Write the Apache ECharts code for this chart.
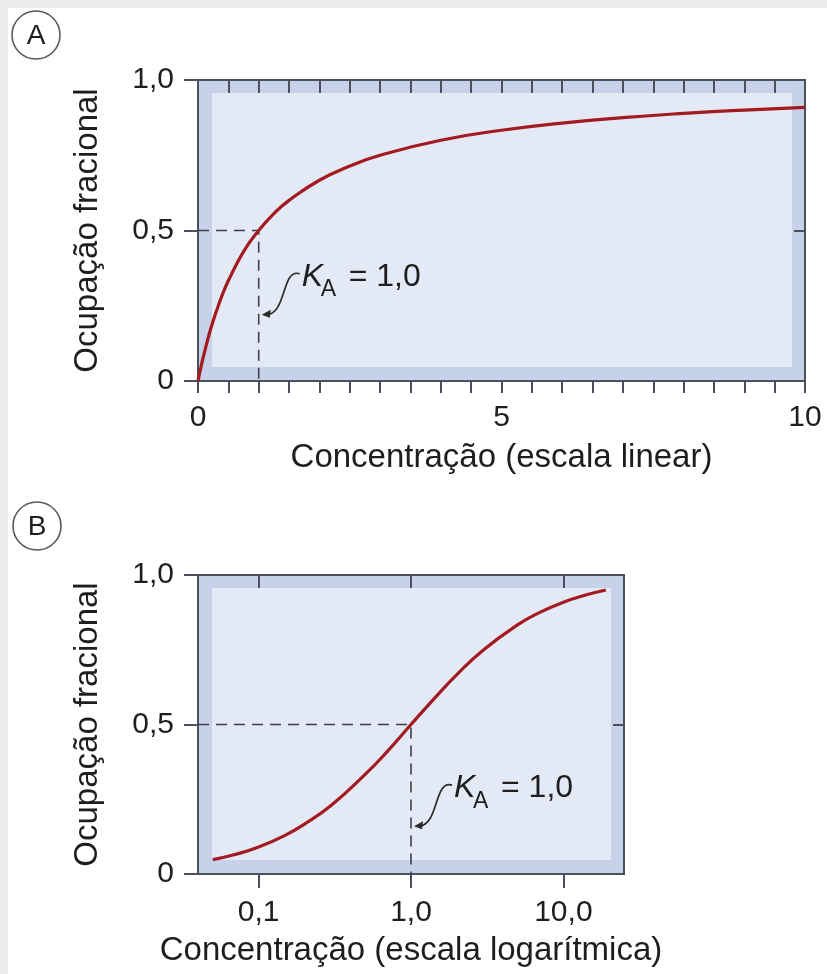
<!DOCTYPE html>
<html><head><meta charset="utf-8">
<script src="https://cdn.jsdelivr.net/npm/echarts@6/dist/echarts.min.js"></script>
<style>html,body{margin:0;padding:0;background:#fff}#c{width:827px;height:974px}</style>
</head><body><div id="c"></div>
<script>
// Panel A: linear concentration scale
const concLinear = [0, 0.05, 0.1, 0.2, 0.3, 0.4, 0.5, 0.75, 1, 1.25, 1.5, 2, 2.5, 3, 4, 5, 6, 7, 8, 9, 10];
const occLinear  = [0, 0.048, 0.09, 0.167, 0.23, 0.286, 0.333, 0.43, 0.5, 0.556, 0.6, 0.667, 0.714, 0.75, 0.8, 0.833, 0.857, 0.875, 0.889, 0.9, 0.909];
// Panel B: logarithmic concentration scale
const concLog = [0.05, 0.07, 0.1, 0.15, 0.2, 0.3, 0.5, 0.7, 1, 1.5, 2, 3, 5, 7, 10, 14, 19];
const occLog  = [0.048, 0.065, 0.09, 0.13, 0.167, 0.23, 0.333, 0.41, 0.5, 0.6, 0.667, 0.75, 0.833, 0.875, 0.909, 0.933, 0.95];
// ticks / labels
const yTickValues = [0, 0.5, 1];
const xLinearLabelValues = [0, 5, 10];
const xLogTickValues = [0.1, 1, 10];
const kA = 1.0;
const halfOcc = 0.5;
const arrowTipOccA = 0.22;
const arrowTipOccB = 0.16;
const texts = {
  yName: 'Ocupação fracional',
  xNameA: 'Concentração (escala linear)',
  xNameB: 'Concentração (escala logarítmica)',
  kLabel: '= 1,0'
};

const FONT = "'Liberation Sans', Arial, Helvetica, sans-serif";
const INK = '#1e1e1e';
const FRAME = '#4a505c';
const RED = '#a31b20';
const DASH = '#3c4048';
const BAND = '#c7d2ea';
const INNER = '#e4e9f6';

const linMin = 0, linMax = 10, logMin = 0.04, logMax = 25;

const commaFmt = v => v === 0 ? '0' : Number(v).toFixed(1).replace('.', ',');

const chart = echarts.init(document.getElementById('c'), null, {renderer: 'canvas'});

const axisLine = {show: true, onZero: false, lineStyle: {color: FRAME, width: 2}};
const labelStyle = {color: INK, fontSize: 30, fontFamily: FONT};
const nameStyle = {color: INK, fontSize: 33, fontFamily: FONT};
const tickLine = {color: FRAME, width: 2};

const option = {
  animation: false,
  backgroundColor: '#ffffff',
  grid: [
    {left: 198, top: 80, width: 607, height: 301, show: true, backgroundColor: BAND, borderColor: FRAME, borderWidth: 2},
    {left: 198, top: 575, width: 426, height: 299, show: true, backgroundColor: BAND, borderColor: FRAME, borderWidth: 2}
  ],
  xAxis: [
    {type: 'value', gridIndex: 0, position: 'bottom', min: linMin, max: linMax, interval: 0.5, z: 3,
     axisLine, splitLine: {show: false},
     axisTick: {show: true, inside: false, length: 12, lineStyle: tickLine},
     axisLabel: Object.assign({margin: 22, customValues: xLinearLabelValues, formatter: v => String(v)}, labelStyle),
     name: texts.xNameA, nameLocation: 'middle', nameGap: 60, nameTextStyle: nameStyle},
    {type: 'value', gridIndex: 0, position: 'top', min: linMin, max: linMax, interval: 0.5, z: 3,
     axisLine, splitLine: {show: false}, axisLabel: {show: false},
     axisTick: {show: true, inside: true, length: 13, lineStyle: tickLine}},
    {type: 'log', logBase: 10, gridIndex: 1, position: 'bottom', min: logMin, max: logMax, z: 3,
     axisLine, splitLine: {show: false}, minorTick: {show: false},
     axisTick: {show: true, inside: false, length: 14, customValues: xLogTickValues, lineStyle: tickLine},
     axisLabel: Object.assign({margin: 24, customValues: xLogTickValues, formatter: v => Number(v).toFixed(1).replace('.', ',')}, labelStyle),
     name: texts.xNameB, nameLocation: 'middle', nameGap: 60, nameTextStyle: nameStyle},
    {type: 'log', logBase: 10, gridIndex: 1, position: 'top', min: logMin, max: logMax, z: 3,
     axisLine, splitLine: {show: false}, axisLabel: {show: false},
     axisTick: {show: true, inside: true, length: 13, customValues: xLogTickValues, lineStyle: tickLine}}
  ],
  yAxis: [
    {type: 'value', gridIndex: 0, position: 'left', min: 0, max: 1, interval: 0.5, z: 3,
     axisLine, splitLine: {show: false},
     axisTick: {show: true, inside: false, length: 14, lineStyle: tickLine},
     axisLabel: Object.assign({margin: 24, formatter: commaFmt}, labelStyle),
     name: texts.yName, nameLocation: 'middle', nameGap: 94, nameRotate: 90, nameTextStyle: nameStyle},
    {type: 'value', gridIndex: 0, position: 'right', min: 0, max: 1, interval: 0.5, z: 3,
     axisLine, splitLine: {show: false}, axisLabel: {show: false},
     axisTick: {show: true, inside: true, length: 11, lineStyle: tickLine}},
    {type: 'value', gridIndex: 1, position: 'left', min: 0, max: 1, interval: 0.5, z: 3,
     axisLine, splitLine: {show: false},
     axisTick: {show: true, inside: false, length: 14, lineStyle: tickLine},
     axisLabel: Object.assign({margin: 24, formatter: commaFmt}, labelStyle),
     name: texts.yName, nameLocation: 'middle', nameGap: 94, nameRotate: 90, nameTextStyle: nameStyle},
    {type: 'value', gridIndex: 1, position: 'right', min: 0, max: 1, interval: 0.5, z: 3,
     axisLine, splitLine: {show: false}, axisLabel: {show: false},
     axisTick: {show: true, inside: true, length: 11, lineStyle: tickLine}}
  ],
  series: [
    {type: 'line', xAxisIndex: 0, yAxisIndex: 0, z: 4, showSymbol: false, smooth: false, silent: true,
     data: [[linMin, halfOcc], [kA, halfOcc], [kA, 0]],
     lineStyle: {color: DASH, width: 1.6, type: [11, 7]}},
    {type: 'line', xAxisIndex: 0, yAxisIndex: 0, z: 5, showSymbol: false, smooth: 0.5, silent: true,
     data: concLinear.map((x, i) => [x, occLinear[i]]),
     lineStyle: {color: RED, width: 3.2}},
    {type: 'line', xAxisIndex: 2, yAxisIndex: 2, z: 4, showSymbol: false, smooth: false, silent: true,
     data: [[logMin, halfOcc], [kA, halfOcc], [kA, 0]],
     lineStyle: {color: DASH, width: 1.6, type: [11, 7]}},
    {type: 'line', xAxisIndex: 2, yAxisIndex: 2, z: 5, showSymbol: false, smooth: 0.5, silent: true,
     data: concLog.map((x, i) => [x, occLog[i]]),
     lineStyle: {color: RED, width: 3.2}}
  ]
};
chart.setOption(option);

function px(xi, yi, pt) { return chart.convertToPixel({xAxisIndex: xi, yAxisIndex: yi}, pt); }

function innerRect(xi, yi, xmin, xmax) {
  const a = px(xi, yi, [xmin, 1]);
  const b = px(xi, yi, [xmax, 0]);
  return {type: 'rect', z: 1, silent: true,
    shape: {x: a[0] + 14, y: a[1] + 13, width: b[0] - a[0] - 27, height: b[1] - a[1] - 27},
    style: {fill: INNER}};
}

function annotation(xi, yi, tipOcc) {
  const t = px(xi, yi, [kA, tipOcc]);
  const tx = t[0] + 3, ty = t[1];
  return [
    {type: 'bezierCurve', z: 6, silent: true,
     shape: {x1: tx + 38, y1: ty - 41, cpx1: tx + 20, cpy1: ty - 47, cpx2: tx + 25, cpy2: ty - 1, x2: tx + 5, y2: ty},
     style: {stroke: '#2a2a2a', lineWidth: 1.7, fill: null}},
    {type: 'polygon', z: 6, silent: true,
     shape: {points: [[tx, ty], [tx + 9, ty - 5], [tx + 8, ty + 3]]},
     style: {fill: '#2a2a2a'}},
    {type: 'text', z: 6, silent: true, x: tx + 40, y: ty - 27 - 11,
     style: {text: 'K', font: 'italic 32px ' + FONT, fill: INK, verticalAlign: 'middle', align: 'left'}},
    {type: 'text', z: 6, silent: true, x: tx + 59, y: ty - 17 - 8,
     style: {text: 'A', font: '23px ' + FONT, fill: INK, verticalAlign: 'middle', align: 'left'}},
    {type: 'text', z: 6, silent: true, x: tx + 87, y: ty - 27 - 11,
     style: {text: texts.kLabel, font: '32px ' + FONT, fill: INK, verticalAlign: 'middle', align: 'left'}}
  ];
}

function circleLabel(cx, cy, letter) {
  return [
    {type: 'circle', z: 6, silent: true, shape: {cx, cy, r: 24}, style: {fill: '#fff', stroke: '#5a5a5a', lineWidth: 1.6}},
    {type: 'text', z: 7, silent: true, x: cx, y: cy + 1,
     style: {text: letter, font: '28px ' + FONT, fill: INK, align: 'center', verticalAlign: 'middle'}}
  ];
}

const elements = [
  {type: 'rect', z: 0, silent: true, shape: {x: 0, y: 0, width: 8, height: 974}, style: {fill: '#ebebeb'}},
  {type: 'rect', z: 0, silent: true, shape: {x: 0, y: 0, width: 827, height: 8}, style: {fill: '#ebebeb'}},
  innerRect(0, 0, linMin, linMax),
  innerRect(2, 2, logMin, logMax)
].concat(annotation(0, 0, arrowTipOccA), annotation(2, 2, arrowTipOccB),
         circleLabel(36, 35, 'A'), circleLabel(37, 526, 'B'));

chart.setOption({graphic: {elements}});
</script>
</body></html>
